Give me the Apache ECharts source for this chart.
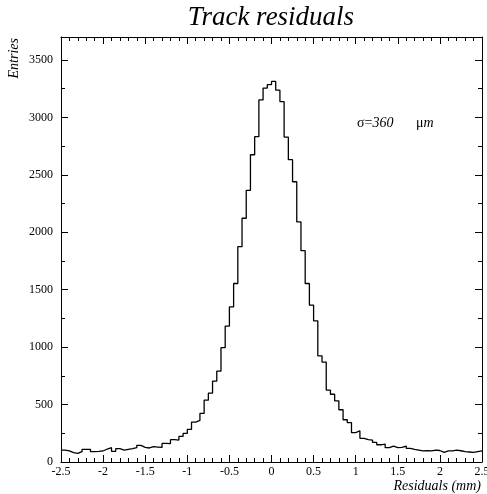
<!DOCTYPE html>
<html>
<head>
<meta charset="utf-8">
<script src="https://cdn.jsdelivr.net/npm/echarts@6/dist/echarts.min.js"></script>
<style>
  html, body { margin: 0; padding: 0; background: #fff; }
  #chart { width: 487px; height: 494px; }
</style>
</head>
<body>
<div id="chart"></div>
<script>
// histogram layout: 100 bins of 0.05 mm from -2.5 to 2.5
var binStart = -2.5;
var binWidth = 0.05;
// entries per bin
var counts = [
    104, 96, 81, 75, 90, 110, 110, 90, 92, 96,
    113, 125, 93, 116, 104, 110, 116, 125, 145, 128,
    122, 133, 130, 127, 162, 160, 194, 191, 223, 249,
    284, 348, 362, 423, 538, 600, 704, 791, 995, 1183,
    1350, 1554, 1875, 2122, 2365, 2675, 2832, 3152, 3255, 3285,
    3313, 3237, 3137, 2829, 2632, 2440, 2090, 1840, 1554, 1365,
    1229, 924, 870, 626, 590, 533, 455, 368, 343, 255,
    272, 206, 194, 191, 170, 150, 156, 125, 139, 125,
    128, 139, 119, 110, 104, 96, 98, 96, 104, 100,
    84, 96, 96, 104, 98, 90, 87, 84, 90, 96
];
var xRange = [-2.5, 2.5];
var yRange = [0, 3700];

(function () {
    var chart = echarts.init(document.getElementById('chart'), null, { renderer: 'canvas' });

    // step line through the left edge of every bin, closed at the right edge
    var pts = [];
    counts.forEach(function (c, i) {
        pts.push([+(binStart + i * binWidth).toFixed(3), c]);
    });
    pts.push([binStart + counts.length * binWidth, counts[counts.length - 1]]);

    var font = '"Liberation Serif", "DejaVu Serif", serif';
    var tick = { show: true, inside: true, length: 7, lineStyle: { color: '#000', width: 1 } };
    var minorX = { show: true, splitNumber: 5, length: 4, lineStyle: { color: '#000', width: 1 } };
    var minorY = { show: true, splitNumber: 2, length: 4, lineStyle: { color: '#000', width: 1 } };
    var line = { show: true, onZero: false, lineStyle: { color: '#000', width: 1 } };
    var plain = function (v) { return String(v); };

    var option = {
        animation: false,
        backgroundColor: '#fff',
        grid: { left: 61, right: 5, top: 37, bottom: 32, containLabel: false, outerBoundsMode: 'none' },
        xAxis: [
            {
                type: 'value', position: 'bottom', min: xRange[0], max: xRange[1], interval: 0.5,
                axisLine: line, axisTick: tick, minorTick: minorX,
                splitLine: { show: false },
                axisLabel: { color: '#000', fontFamily: font, fontSize: 12, margin: 4, formatter: plain }
            },
            {
                type: 'value', position: 'top', min: xRange[0], max: xRange[1], interval: 0.5,
                axisLine: line, axisTick: tick, minorTick: minorX,
                splitLine: { show: false }, axisLabel: { show: false }
            }
        ],
        yAxis: [
            {
                type: 'value', position: 'left', min: yRange[0], max: yRange[1], interval: 500,
                axisLine: line, axisTick: tick, minorTick: minorY,
                splitLine: { show: false },
                axisLabel: { color: '#000', fontFamily: font, fontSize: 12, margin: 8, showMaxLabel: false, formatter: plain }
            },
            {
                type: 'value', position: 'right', min: yRange[0], max: yRange[1], interval: 500,
                axisLine: line, axisTick: tick, minorTick: minorY,
                splitLine: { show: false }, axisLabel: { show: false }
            }
        ],
        series: [{
            type: 'line',
            step: 'end',
            data: pts,
            symbol: 'none',
            lineStyle: { color: '#000', width: 1.3 },
            clip: true
        }],
        graphic: [
            {
                type: 'text', x: 271, y: 4,
                style: { text: 'Track residuals', font: 'italic 27px ' + font, fill: '#000', align: 'center', verticalAlign: 'top' }
            },
            {
                type: 'text', x: 7, y: 38, rotation: Math.PI / 2,
                style: { text: 'Entries', font: 'italic 14px ' + font, fill: '#000', align: 'right', verticalAlign: 'top' }
            },
            {
                type: 'text', x: 481, y: 479,
                style: { text: 'Residuals (mm)', font: 'italic 14px ' + font, fill: '#000', align: 'right', verticalAlign: 'top' }
            },
            {
                type: 'text', x: 357, y: 116,
                style: {
                    text: '{u|σ=}{i|360}',
                    fill: '#000',
                    verticalAlign: 'top',
                    rich: {
                        u: { font: '14px ' + font, fill: '#000' },
                        i: { font: 'italic 14px ' + font, fill: '#000' }
                    }
                }
            },
            {
                type: 'text', x: 416, y: 116,
                style: {
                    text: '{u|μ}{i|m}',
                    fill: '#000',
                    verticalAlign: 'top',
                    rich: {
                        u: { font: '14px ' + font, fill: '#000' },
                        i: { font: 'italic 14px ' + font, fill: '#000' }
                    }
                }
            }
        ]
    };
    chart.setOption(option);
})();
</script>
</body>
</html>
